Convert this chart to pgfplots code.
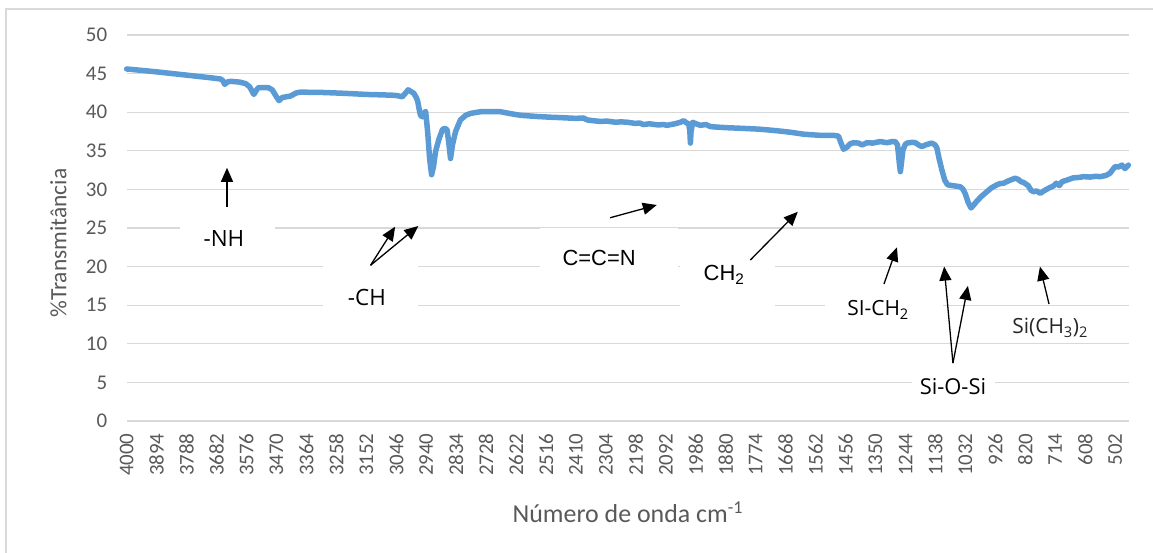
\documentclass[border=0pt]{standalone}
\usepackage{pgfplots}
\pgfplotsset{compat=1.18}
\usepackage{fontspec}
\setmainfont{Carlito}
\newfontfamily\arialf{Liberation Sans}
\newfontfamily\opens{Open Sans}
\usetikzlibrary{arrows.meta}
\definecolor{lineblue}{HTML}{5B9BD5}
\definecolor{gridgray}{HTML}{D9D9D9}
\definecolor{txtgray}{HTML}{595959}
\begin{document}
\begin{tikzpicture}
\path[use as bounding box] (0bp,0bp) rectangle (1153bp,-553bp);
\draw[draw=gridgray, line width=1.2bp] (6bp,-9bp) rectangle (1175bp,-580bp);
\begin{axis}[
  at={(126.7bp,-421bp)}, anchor=south west,
  scale only axis, width=1002.3bp, height=386bp,
  xmin=453, xmax=4000, x dir=reverse,
  ymin=0, ymax=50,
  ytick={0,5,...,50},
  xtick={4000,3894,3788,3682,3576,3470,3364,3258,3152,3046,2940,2834,2728,2622,2516,2410,2304,2198,2092,1986,1880,1774,1668,1562,1456,1350,1244,1138,1032,926,820,714,608,502},
  xticklabel={\pgfmathprintnumber[fixed,precision=0,1000 sep={}]{\tick}},
  /pgf/number format/assume math mode=true,
  axis line style={draw=none},
  major tick length=0pt,
  ymajorgrids, xmajorgrids=false,
  grid style={gridgray, line width=1.3bp},
  tick label style={font=\fontsize{21}{24}\selectfont, text=txtgray},
  xticklabel style={rotate=90, anchor=east, xshift=-9bp},
  yticklabel style={anchor=east, xshift=-16bp},
  clip=false,
  every axis y label/.style={at={(axis description cs:-0.068,0.461)}, rotate=90, anchor=center, font=\fontsize{23.5}{27}\selectfont, text=txtgray},
  every axis x label/.style={at={(axis description cs:0.5,-0.236)}, anchor=center, font=\fontsize{26}{30}\selectfont, text=txtgray},
  ylabel={\%Transmitância},
  xlabel={Número de onda cm\textsuperscript{-1}},
]
\addplot[color=lineblue, line width=5.5bp, line join=round, line cap=round] coordinates {
(4000,45.6) (3900,45.25) (3800,44.85) (3700,44.45) (3668,44.3) (3660,44.1) (3653,43.6) (3645,43.9)
(3632,44.0) (3600,43.9) (3579,43.7) (3565,43.3) (3550,42.3) (3540,42.9) (3533,43.2) (3500,43.2)
(3485,42.9) (3470,42.0) (3461,41.5) (3450,41.9) (3435,42.0) (3420,42.1) (3400,42.5) (3385,42.6)
(3300,42.55) (3232,42.45) (3150,42.3) (3100,42.25) (3060,42.2) (3043,42.15) (3025,42.0) (3015,42.4)
(3004,42.9) (2995,42.7) (2984,42.45) (2975,41.9) (2970,41.4) (2964,40.2) (2960,39.6) (2954,39.4)
(2948,39.9) (2942,40.1) (2935,37.5) (2928,34.0) (2921,31.9) (2914,33.0) (2907,34.9) (2895,36.5)
(2882,37.8) (2873,37.9) (2866,37.7) (2860,36.0) (2854,34.0) (2847,35.8) (2836,37.5) (2819,39.0)
(2800,39.6) (2783,39.85) (2748,40.06) (2700,40.08) (2677,40.06) (2640,39.8) (2606,39.6) (2550,39.45)
(2500,39.35) (2465,39.3) (2410,39.2) (2384,39.25) (2370,39.0) (2350,38.9) (2323,38.8) (2300,38.85)
(2270,38.7) (2250,38.75) (2229,38.7) (2200,38.55) (2185,38.6) (2171,38.4) (2150,38.5) (2120,38.35)
(2100,38.4) (2088,38.3) (2060,38.5) (2040,38.7) (2029,38.9) (2018,38.6) (2011,38.5) (2007,37.5)
(2005,36.0) (2003,37.4) (1997,38.7) (1985,38.5) (1970,38.3) (1950,38.4) (1935,38.15) (1923,38.1)
(1880,38.0) (1817,37.9) (1760,37.8) (1699,37.6) (1650,37.4) (1604,37.15) (1545,37.0) (1498,37.0)
(1481,36.9) (1472,36.0) (1463,35.2) (1450,35.5) (1440,35.9) (1428,36.05) (1410,36.0) (1398,35.75)
(1380,36.05) (1360,36.0) (1340,36.15) (1333,36.2) (1310,36.05) (1290,36.2) (1280,36.2) (1272,35.75)
(1266,33.5) (1262,32.3) (1258,33.5) (1253,35.1) (1245,35.8) (1239,36.0) (1220,36.1) (1209,36.05)
(1195,35.7) (1186,35.55) (1170,35.8) (1151,36.0) (1140,35.8) (1133,35.4) (1125,34.0) (1115,32.5)
(1105,31.2) (1095,30.6) (1080,30.5) (1060,30.4) (1050,30.35) (1040,30.0) (1032,29.4) (1022,28.3)
(1012,27.6) (1002,28.0) (991,28.5) (975,29.1) (956,29.7) (940,30.2) (920,30.6) (910,30.75)
(897,30.8) (880,31.1) (856,31.45) (845,31.3) (835,31.0) (826,30.9) (810,30.5) (800,29.9)
(791,29.7) (780,29.8) (767,29.5) (750,29.9) (735,30.2) (720,30.45) (710,30.8) (699,30.5)
(690,31.0) (673,31.2) (650,31.5) (630,31.55) (614,31.65) (590,31.6) (570,31.7) (555,31.65)
(535,31.8) (520,32.1) (510,32.6) (502,32.95) (490,32.9) (478,33.15) (467,32.7) (455,33.15)
};
% white label boxes
\fill[white] (axis cs:3811,26.68) rectangle (axis cs:3475,20.47);
\fill[white] (axis cs:3305,20.08) rectangle (axis cs:2969,12.05);
\fill[white] (axis cs:2537,25.0) rectangle (axis cs:2049,16.97);
\fill[white] (axis cs:2042,23.45) rectangle (axis cs:1706,13.08);
\fill[white] (axis cs:1529,17.6) rectangle (axis cs:1111,11.1);
\fill[white] (axis cs:1221,6.87) rectangle (axis cs:927,2.07);
% labels
\tikzset{lbl/.style={inner sep=0pt, text=black}, arr/.style={-{Triangle[length=14bp,width=12bp]}, line width=1.3bp, black}}
\node[lbl, font=\opens\fontsize{22.5}{27}\selectfont] at (axis cs:3656,23.6) {-NH};
\node[lbl, font=\opens\fontsize{22.5}{27}\selectfont] at (axis cs:3150,16.06) {-CH};
\node[lbl, font=\arialf\fontsize{22}{26}\selectfont] at (axis cs:2328,21.15) {C=C=N};
\node[lbl, font=\arialf\fontsize{22}{26}\selectfont] at (axis cs:1886,18.9) {CH\textsubscript{2}};
\node[lbl, font=\opens\fontsize{21}{26}\selectfont] at (axis cs:1341,14.4) {SI-CH\textsubscript{2}};
\node[lbl, font=\opens\fontsize{22}{26}\selectfont] at (axis cs:1076,4.4) {Si-O-Si};
\node[lbl, font=\opens\fontsize{21}{24}\selectfont, text=black!85] at (axis cs:732,12.05) {Si(CH\textsubscript{3})\textsubscript{2}};
% arrows
\draw[arr] (axis cs:3645,27.7) -- (axis cs:3645,32.8);
\draw[arr] (axis cs:3137,20.17) -- (axis cs:3050,25.17);
\draw[arr] (axis cs:3137,20.17) -- (axis cs:2968,25.26);
\draw[arr] (axis cs:2289,26.33) -- (axis cs:2124,27.98);
\draw[arr] (axis cs:1793,20.85) -- (axis cs:1625,27.1);
\draw[arr] (axis cs:1320,17.75) -- (axis cs:1274,22.5);
\draw[arr] (axis cs:1076,7.5) -- (axis cs:1107,20.0);
\draw[arr] (axis cs:1076,7.5) -- (axis cs:1023,17.5);
\draw[arr] (axis cs:736,15.16) -- (axis cs:768,20.0);
\end{axis}
\end{tikzpicture}
\end{document}
